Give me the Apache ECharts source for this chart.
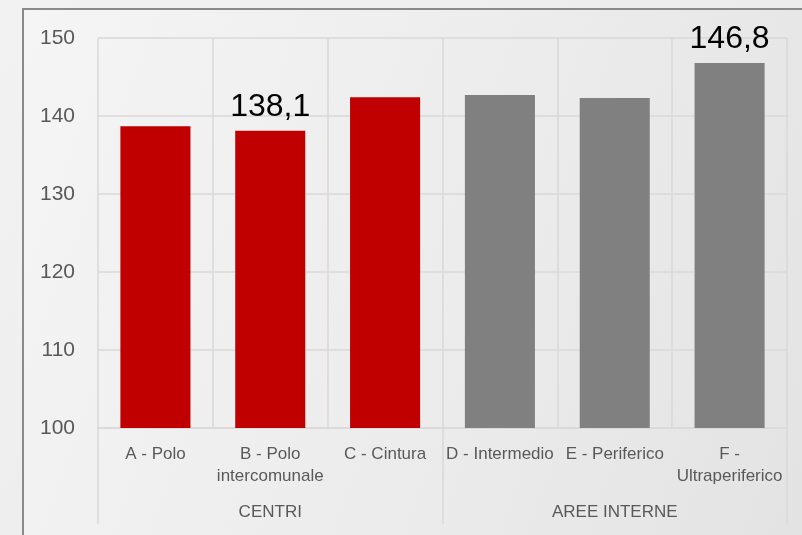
<!DOCTYPE html>
<html>
<head>
<meta charset="utf-8">
<script src="https://cdn.jsdelivr.net/npm/echarts@6/dist/echarts.min.js"></script>
<style>
  html, body {
    margin: 0;
    padding: 0;
    width: 802px;
    height: 535px;
    overflow: hidden;
    background: linear-gradient(135deg, #f2f2f2, #e8e8e8);
  }
  #frame {
    position: absolute;
    left: 22px;
    top: 8px;
    width: 780px;
    height: 527px;
    border-left: 2px solid #8a8a8a;
    border-top: 2px solid #8a8a8a;
    background: linear-gradient(110deg, #f5f5f5 0%, #ebebeb 60%, #e3e3e3 100%);
  }
  #chart {
    width: 780px;
    height: 527px;
  }
</style>
</head>
<body>
<div id="frame"><div id="chart"></div></div>
<script>
  // categorie (con a capo come nel grafico originale)
  const categories = [
    'A - Polo',
    'B - Polo\nintercomunale',
    'C - Cintura',
    'D - Intermedio',
    'E - Periferico',
    'F -\nUltraperiferico'
  ];
  const groups = ['CENTRI', 'AREE INTERNE'];
  const values = [138.7, 138.1, 142.4, 142.7, 142.3, 146.8];
  const barColors = ['#C00000', '#C00000', '#C00000', '#808080', '#808080', '#808080'];
  // solo alcune barre hanno l'etichetta del valore
  const labelled = [1, 5];

  const yMin = 100;
  const yMax = 150;
  const yStep = 10;

  const fmt = v => v.toFixed(1).replace('.', ',');

  const seriesData = values.map((v, i) => ({
    value: v,
    itemStyle: { color: barColors[i] },
    label: {
      show: labelled.indexOf(i) !== -1,
      position: 'top',
      distance: 8,
      formatter: p => fmt(p.value),
      color: '#000',
      fontSize: 32,
      fontFamily: 'Liberation Sans, Arial, sans-serif'
    }
  }));

  const chart = echarts.init(document.getElementById('chart'));
  chart.setOption({
    animation: false,
    textStyle: { fontFamily: 'Liberation Sans, Arial, sans-serif' },
    grid: {
      left: 74,
      right: 17,
      top: 28,
      bottom: 109,
      containLabel: false
    },
    xAxis: [
      {
        type: 'category',
        data: categories,
        position: 'bottom',
        axisLine: { show: true, lineStyle: { color: '#d9d9d9', width: 1.5 } },
        axisTick: { show: false },
        splitLine: { show: true, lineStyle: { color: '#d9d9d9', width: 1.5 } },
        axisLabel: {
          color: '#595959',
          fontSize: 17,
          lineHeight: 22,
          margin: 15,
          interval: 0
        }
      },
      {
        type: 'category',
        data: groups,
        position: 'bottom',
        axisLine: { show: false },
        axisTick: {
          show: true,
          length: 96,
          lineStyle: { color: '#d9d9d9', width: 1.5 }
        },
        splitLine: { show: false },
        axisLabel: {
          color: '#595959',
          fontSize: 17,
          lineHeight: 22,
          margin: 73,
          interval: 0
        }
      }
    ],
    yAxis: {
      type: 'value',
      min: yMin,
      max: yMax,
      interval: yStep,
      axisLine: { show: false },
      axisTick: { show: false },
      splitLine: { show: true, lineStyle: { color: '#d9d9d9', width: 1.5 } },
      axisLabel: {
        color: '#595959',
        fontSize: 21,
        margin: 23
      }
    },
    series: [
      {
        type: 'bar',
        xAxisIndex: 0,
        data: seriesData,
        barWidth: '61%'
      }
    ]
  });
</script>
</body>
</html>
